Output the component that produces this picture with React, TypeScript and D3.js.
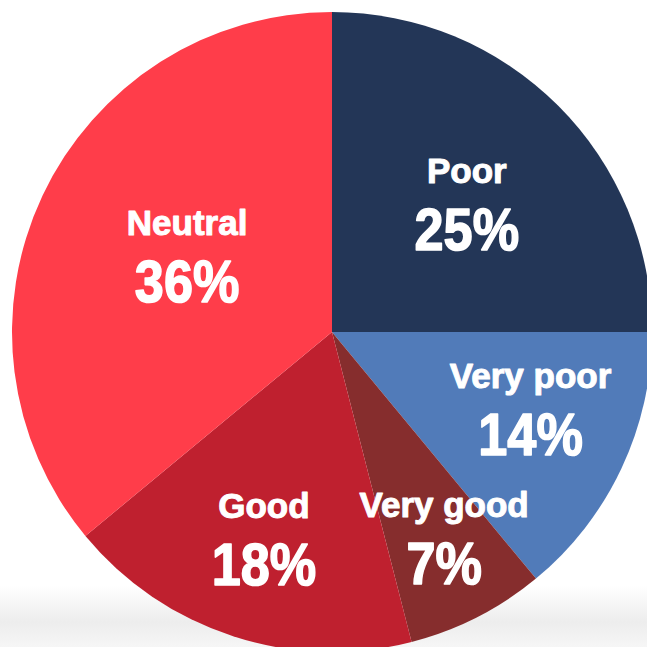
import React from "react";
import * as d3 from "d3";

const categories = ["Poor", "Very poor", "Very good", "Good", "Neutral"];
const values = [25, 14, 7, 18, 36];
const colors = ["#233657", "#517bb9", "#862d2d", "#bf202f", "#ff3d4a"];

// label layout: angle (deg, clockwise from 12 o'clock) and radius of the label anchor
const labelAngle = [44.6, 109, 150.4, 199, 300.4];
const labelRadius = [192, 210, 227, 209, 168];

const W = 647;
const H = 647;
const cx = 332;
const cy = 332;
const R = 320;

export default function App() {
  const pie = d3
    .pie<number>()
    .sort(null)
    .value((d) => d);
  const arcs = pie(values);
  const arc = d3.arc<d3.PieArcDatum<number>>().innerRadius(0).outerRadius(R);
  const font = "'Liberation Sans', Arial, sans-serif";

  return (
    <svg
      width={W}
      height={H}
      style={{ position: "absolute", left: 0, top: 0, display: "block" }}
    >
      <defs>
        <linearGradient id="bg" x1="0" y1="0" x2="0" y2="1">
          <stop offset="0" stopColor="#ffffff" />
          <stop offset="0.6" stopColor="#ededed" />
          <stop offset="1" stopColor="#f6f6f6" />
        </linearGradient>
      </defs>
      <rect x={0} y={0} width={W} height={H} fill="#ffffff" />
      <rect x={0} y={585} width={W} height={H - 585} fill="url(#bg)" />
      <g transform={`translate(${cx},${cy})`}>
        {arcs.map((a, i) => (
          <path key={categories[i]} d={arc(a) || ""} fill={colors[i]} />
        ))}
      </g>
      {arcs.map((a, i) => {
        const ang = (labelAngle[i] * Math.PI) / 180;
        const x = cx + labelRadius[i] * Math.sin(ang);
        const y = cy - labelRadius[i] * Math.cos(ang);
        const pct = d3.format(".0f")(values[i]) + "%";
        return (
          <g
            key={"l" + i}
            fill="#ffffff"
            stroke="#ffffff"
            strokeLinejoin="round"
            fontFamily={font}
            fontWeight="bold"
            textAnchor="middle"
          >
            <text x={x} y={y - 12} fontSize={35} strokeWidth={1}>
              {categories[i]}
            </text>
            <text
              transform={`translate(${x},${y + 55}) scale(0.87,1)`}
              fontSize={60}
              strokeWidth={1.6}
            >
              {pct}
            </text>
          </g>
        );
      })}
    </svg>
  );
}
